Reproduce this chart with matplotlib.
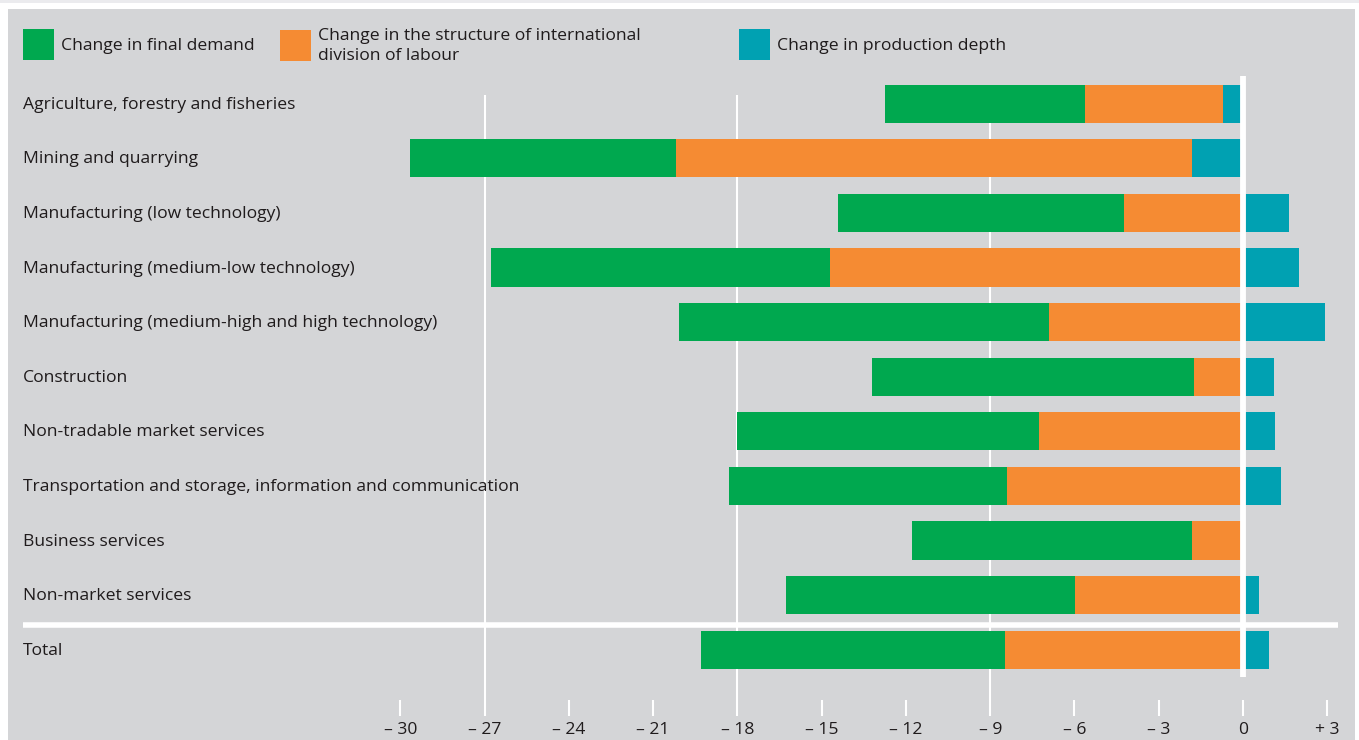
import matplotlib.pyplot as plt
from matplotlib.patches import Rectangle
from matplotlib.transforms import blended_transform_factory

plt.rcParams['font.family'] = ['Open Sans', 'DejaVu Sans']

categories = ['Agriculture, forestry and fisheries', 'Mining and quarrying',
              'Manufacturing (low technology)', 'Manufacturing (medium-low technology)',
              'Manufacturing (medium-high and high technology)', 'Construction',
              'Non-tradable market services',
              'Transportation and storage, information and communication',
              'Business services', 'Non-market services', 'Total']
final_demand = [-7.09, -9.46, -10.20, -12.07, -13.17, -11.46, -10.75, -9.89, -9.99, -10.30, -10.80]
intl_division = [-4.92, -18.38, -4.22, -14.70, -6.91, -1.75, -7.28, -8.40, -1.81, -5.97, -8.48]
prod_depth = [-0.72, -1.80, 1.64, 2.01, 2.92, 1.10, 1.13, 1.34, 0.0, 0.58, 0.92]
xticks = [-30, -27, -24, -21, -18, -15, -12, -9, -6, -3, 0, 3]
xtick_labels = ['\u2013 30', '\u2013 27', '\u2013 24', '\u2013 21', '\u2013 18', '\u2013 15',
                '\u2013 12', '\u2013 9', '\u2013 6', '\u2013 3', '0', '+ 3']
legend_labels = ['Change in final demand',
                 'Change in the structure of international\ndivision of labour',
                 'Change in production depth']

green, orange, teal = '#00a84f', '#f58b33', '#00a1b2'
panel = '#d4d5d7'
txt = '#1f1b1c'
fs = 12.6

W, H = 1359, 740
fig = plt.figure(figsize=(W / 100, H / 100), dpi=100, facecolor='white')

# top strip + grey panel
fig.add_artist(Rectangle((0, 1 - 3 / H), 1, 3 / H, transform=fig.transFigure,
                         facecolor='#ebebee', edgecolor='none'))
ax = fig.add_axes([8 / W, 0, (1355 - 8) / W, (740 - 9) / H])
ax.set_facecolor(panel)
for s in ax.spines.values():
    s.set_visible(False)
ax.set_xticks([])
ax.set_yticks([])

# data mapping: pixel = 1243 + 28.09*v ; row center = 103.7 + 54.6*i
ppu, x0 = 28.09, 1243
ax.set_xlim((8 - x0) / ppu, (1355 - x0) / ppu)
ax.set_ylim((740 - 103.7) / 54.6, (9 - 103.7) / 54.6)

# gridlines and tick marks
for t in xticks:
    if t in (-27, -18, -9):
        ax.vlines(t, -0.159, 11.22, color='white', lw=1.5, zorder=1)
    else:
        ax.vlines(t, 10.93, 11.22, color='white', lw=1.5, zorder=1)

h = 0.696
for i in range(len(categories)):
    d = prod_depth[i]
    ax.barh(i, d, left=0, height=h, color=teal, zorder=2)
    start = d if d < 0 else 0
    ax.barh(i, intl_division[i], left=start, height=h, color=orange, zorder=2)
    start += intl_division[i]
    ax.barh(i, final_demand[i], left=start, height=h, color=green, zorder=2)

# zero line and separator
ax.vlines(0, -0.507, 10.50, color='white', lw=4.2, zorder=3)
ax.hlines(9.55, (23 - x0) / ppu, (1338 - x0) / ppu, color='white', lw=4.0, zorder=3)

# category labels
trans = blended_transform_factory(fig.transFigure, ax.transData)
for i, c in enumerate(categories):
    ax.text(23 / W, i + 0.02, c, transform=trans, ha='left', va='center',
            fontsize=fs, color=txt)

# tick labels
for t, lab in zip(xticks, xtick_labels):
    ax.text(t, (730 - 103.7) / 54.6, lab, ha='center', va='center',
            fontsize=fs, color=txt)

# legend
for (xl, yt, col), lab, tx in zip([(23, 29, green), (280, 30, orange), (739, 29, teal)],
                                   legend_labels, [61, 318, 777]):
    fig.add_artist(Rectangle((xl / W, 1 - (yt + 31) / H), 31 / W, 31 / H,
                             transform=fig.transFigure, facecolor=col, edgecolor='none'))
    fig.text(tx / W, 1 - 46 / H, lab, ha='left', va='center', fontsize=fs,
             color=txt, linespacing=1.35)

fig.savefig('out.png', dpi=100, facecolor='white')
